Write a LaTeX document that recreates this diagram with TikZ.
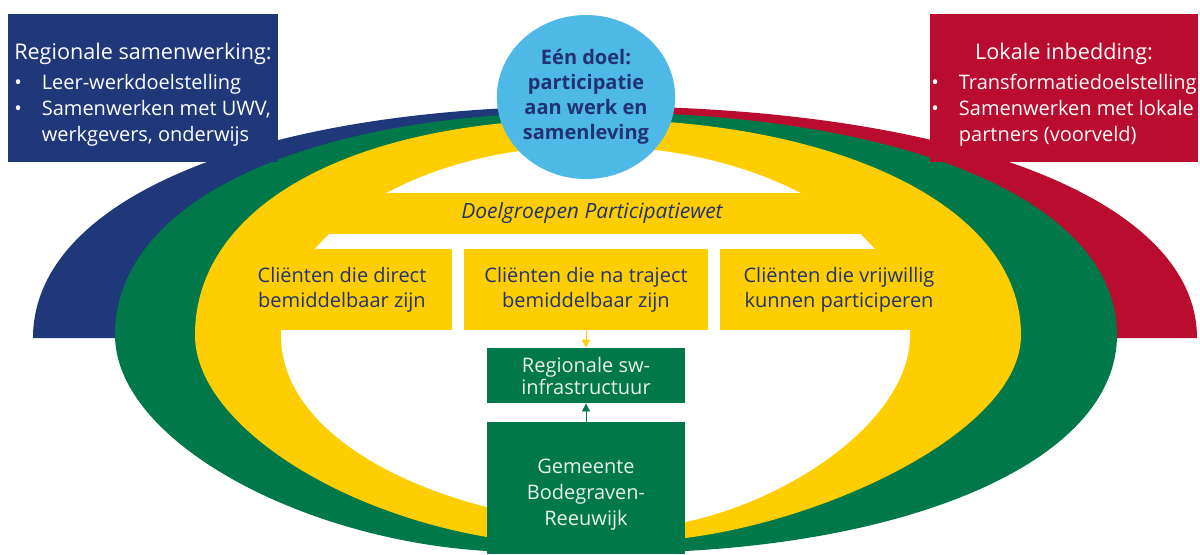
\documentclass[tikz,border=0pt]{standalone}
\usepackage{fontspec}
\setmainfont{Open Sans}
\usetikzlibrary{shapes.geometric,arrows.meta}
\definecolor{regioblue}{RGB}{30,56,122}
\definecolor{lokaalred}{RGB}{186,12,47}
\definecolor{swgreen}{RGB}{0,120,74}
\definecolor{doelyellow}{RGB}{255,206,0}
\definecolor{doelcyan}{RGB}{78,184,230}
\definecolor{textblue}{RGB}{33,50,112}
\definecolor{swtext}{RGB}{232,242,234}
\begin{document}
\begin{tikzpicture}[x=0.5pt,y=-0.5pt,
  box/.style={inner sep=0pt, align=center},
  infobox/.style={box, text=white, minimum width=135pt, minimum height=74pt, font=\fontsize{10}{13}\selectfont},
  clientbox/.style={box, fill=doelyellow, text=textblue, minimum height=40.5pt, font=\fontsize{10}{12.5}\selectfont},
  swbox/.style={box, fill=swgreen, text=swtext, minimum width=99pt}]
\useasboundingbox (0,0) rectangle (1200,554);
%% Bands
\fill[regioblue] (33,338) .. controls (33,199) and (257,106) .. (592,106) -- (592,338) -- cycle;
\fill[lokaalred] (592,106) .. controls (955,106) and (1197,199) .. (1197,338) -- (592,338) -- cycle;
\fill[swgreen] (115,335) .. controls (115,201) and (305,112) .. (590,112)
  .. controls (906,112) and (1117,201) .. (1117,335)
  .. controls (1117,455) and (930,538) .. (685,551) -- (487,551)
  .. controls (300,540) and (115,440) .. (115,335) -- cycle;
\fill[doelyellow] (195,335) .. controls (195,205) and (353,119) .. (590,119)
  .. controls (836,119) and (1021,205) .. (1021,335)
  .. controls (1021,430) and (830,520) .. (685,538) -- (487,537)
  .. controls (330,510) and (195,420) .. (195,335) -- cycle;
\fill[white] (281,335) .. controls (281,231) and (420,146) .. (590,146)
  .. controls (766,146) and (910,231) .. (910,335)
  .. controls (910,420) and (790,500) .. (685,522) -- (487,507)
  .. controls (380,480) and (281,420) .. (281,335) -- cycle;
%% Nodes
\node[box, fill=doelyellow, text=textblue, minimum width=292pt, minimum height=20.5pt,
  font=\fontsize{10.5}{12}\selectfont\itshape] (doelgroep) at (592,213.5) {Doelgroepen Participatiewet};
\node[clientbox, minimum width=110pt] (direct) at (342,289.5) {Cliënten die direct\\bemiddelbaar zijn};
\node[clientbox, minimum width=122pt] (traject) at (586,289.5) {Cliënten die na traject\\bemiddelbaar zijn};
\node[clientbox, minimum width=119pt] (vrijwillig) at (839,289.5) {Cliënten die vrijwillig\\kunnen participeren};
\node[swbox, minimum height=27.5pt, font=\fontsize{10}{11}\selectfont] (sw) at (586,375.5) {Regionale sw-\\infrastructuur};
\node[swbox, minimum height=66pt, font=\fontsize{10}{13}\selectfont] (gemeente) at (586,488) {\rule{0pt}{13.5pt}Gemeente\\Bodegraven-\\Reeuwijk};
\node[ellipse, box, fill=doelcyan, text=textblue, minimum width=88pt, minimum height=82pt,
  font=\fontsize{10}{12.5}\selectfont\bfseries] (doel) at (586,97) {Eén doel:\\participatie\\aan werk en\\samenleving};
\node[infobox, fill=regioblue] (regio) at (143,88) {\begin{tabular}{@{}l@{\hspace{10pt}}l@{}}
  \multicolumn{2}{@{}c@{}}{\rule{0pt}{16pt}\fontsize{10.8}{13}\selectfont Regionale samenwerking:}\\[2pt]
  \textbullet & Leer-werkdoelstelling\\
  \textbullet & Samenwerken met UWV,\\
  & werkgevers, onderwijs\end{tabular}};
\node[infobox, fill=lokaalred, minimum width=134pt] (lokaal) at (1064,88) {\begin{tabular}{@{}l@{\hspace{10pt}}l@{}}
  \multicolumn{2}{@{}c@{}}{\rule{0pt}{16pt}\fontsize{10.8}{13}\selectfont Lokale inbedding:}\\[2pt]
  \textbullet & Transformatiedoelstelling\\
  \textbullet & Samenwerken met lokale\\
  & partners (voorveld)\end{tabular}};
%% Lines
\draw[doelyellow, -{Triangle[length=4pt,width=4pt]}] (traject) -- (sw);
\draw[swgreen, -{Triangle[length=4pt,width=4pt]}] (gemeente) -- (sw);
\end{tikzpicture}
\end{document}
